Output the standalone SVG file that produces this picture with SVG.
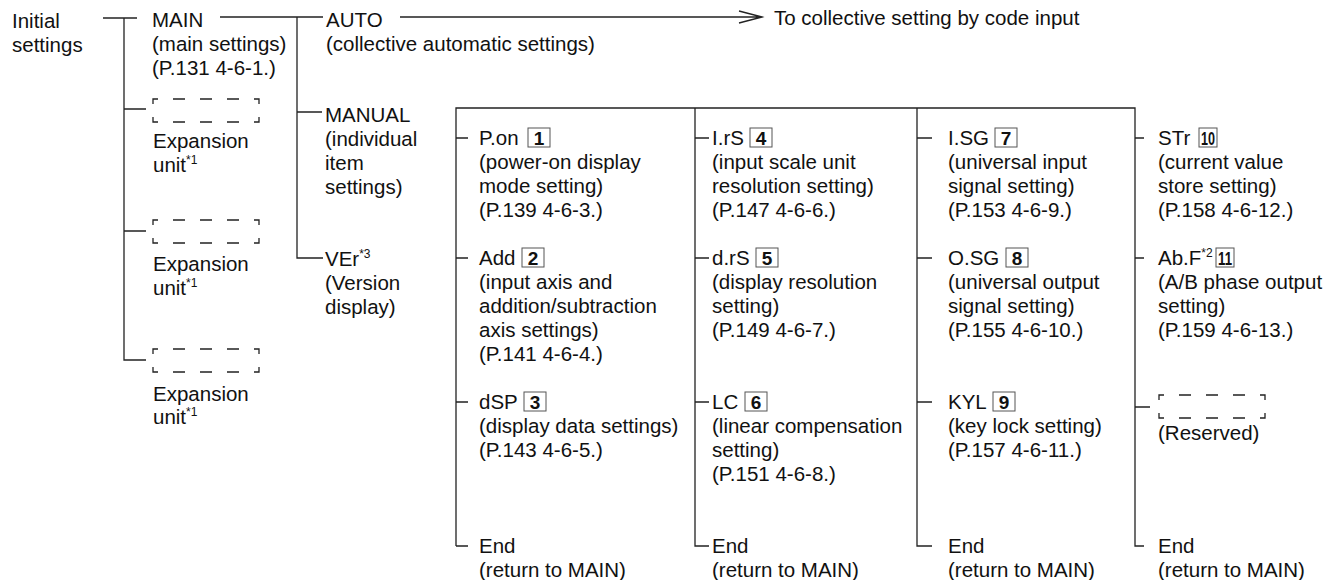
<svg xmlns="http://www.w3.org/2000/svg" xmlns:xlink="http://www.w3.org/1999/xlink" width="1332" height="580" viewBox="0 0 1332 580">
<style>
text { font-family: "Liberation Sans", Arial, Helvetica, sans-serif; font-size: 20.5px; fill: #111; }
.sup { font-size: 12px; }
.n { font-weight: bold; font-size: 19px; text-anchor: middle; }
.ln { stroke: #222; stroke-width: 1.3; fill: none; }
.nb { fill: none; stroke: #555; stroke-width: 1; }
.db { stroke: #222; stroke-width: 1.3; fill: none; }
</style>
<defs>
<path id="dbox" class="db" d="M0,5 V0 H5 M20,0 H32 M47,0 H59 M74,0 H86 M101,0 H106 V5 M0,18 V23 H5 M20,23 H32 M47,23 H59 M74,23 H86 M101,23 H106 V18"/>
</defs>
<rect width="1332" height="580" fill="#fff"/>

<g id="connectors">
<path class="ln" d="M103,18 H137"/>
<path class="ln" d="M124,18 V360 H146 M124,109 H146 M124,231 H146"/>
<path class="ln" d="M220,17 H323 M297,17 V258 H323 M297,112 H322"/>
<path class="ln" d="M400,17 H762 M739,11 L762,17 L739,23"/>
<path class="ln" d="M456,546 V108 H1135 V546 H1144"/>
<path class="ln" d="M456,546 H468 M695,108 V546 H709 M917,108 V546 H932"/>
<path class="ln" d="M456,138 H468 M456,258 H468 M456,402 H468"/>
<path class="ln" d="M695,138 H709 M695,258 H709 M695,402 H709"/>
<path class="ln" d="M917,138 H932 M917,258 H932 M917,402 H932"/>
<path class="ln" d="M1135,138 H1144 M1135,258 H1144 M1135,407 H1150"/>
</g>

<g id="initial">
<text x="12" y="28">Initial</text>
<text x="12" y="52">settings</text>
</g>

<g id="main">
<text x="152" y="27">MAIN</text>
<text x="152" y="51">(main settings)</text>
<text x="152" y="75">(P.131 4-6-1.)</text>
</g>

<g id="exp1">
<use xlink:href="#dbox" x="153" y="99"/>
<text x="153" y="148">Expansion</text>
<text x="153" y="172">unit<tspan class="sup" dy="-8">*1</tspan></text>
</g>
<g id="exp2">
<use xlink:href="#dbox" x="153" y="220"/>
<text x="153" y="271">Expansion</text>
<text x="153" y="295">unit<tspan class="sup" dy="-8">*1</tspan></text>
</g>
<g id="exp3">
<use xlink:href="#dbox" x="153" y="349"/>
<text x="153" y="401">Expansion</text>
<text x="153" y="424">unit<tspan class="sup" dy="-8">*1</tspan></text>
</g>

<g id="auto">
<text x="326" y="27">AUTO</text>
<text x="326" y="51">(collective automatic settings)</text>
</g>
<g id="code-input">
<text x="774" y="25">To collective setting by code input</text>
</g>
<g id="manual">
<text x="325" y="122">MANUAL</text>
<text x="325" y="146">(individual</text>
<text x="325" y="170">item</text>
<text x="325" y="194">settings)</text>
</g>
<g id="ver">
<text x="325" y="266">VEr<tspan class="sup" dy="-8">*3</tspan></text>
<text x="325" y="290">(Version</text>
<text x="325" y="314">display)</text>
</g>

<g id="pon">
<text x="479" y="145">P.on</text>
<rect class="nb" x="528" y="128" width="22" height="19"/><text class="n" x="539" y="145">1</text>
<text x="479" y="169">(power-on display</text>
<text x="479" y="193">mode setting)</text>
<text x="479" y="217">(P.139 4-6-3.)</text>
</g>
<g id="add">
<text x="479" y="265">Add</text>
<rect class="nb" x="522" y="248" width="22" height="19"/><text class="n" x="533" y="265">2</text>
<text x="479" y="289">(input axis and</text>
<text x="479" y="313">addition/subtraction</text>
<text x="479" y="337">axis settings)</text>
<text x="479" y="361">(P.141 4-6-4.)</text>
</g>
<g id="dsp">
<text x="479" y="409">dSP</text>
<rect class="nb" x="524" y="392" width="22" height="19"/><text class="n" x="535" y="409">3</text>
<text x="479" y="433">(display data settings)</text>
<text x="479" y="457">(P.143 4-6-5.)</text>
</g>
<g id="end1">
<text x="479" y="553">End</text>
<text x="479" y="577">(return to MAIN)</text>
</g>

<g id="irs">
<text x="712" y="145">I.rS</text>
<rect class="nb" x="750" y="128" width="22" height="19"/><text class="n" x="761" y="145">4</text>
<text x="712" y="169">(input scale unit</text>
<text x="712" y="193">resolution setting)</text>
<text x="712" y="217">(P.147 4-6-6.)</text>
</g>
<g id="drs">
<text x="712" y="265">d.rS</text>
<rect class="nb" x="756" y="248" width="22" height="19"/><text class="n" x="767" y="265">5</text>
<text x="712" y="289">(display resolution</text>
<text x="712" y="313">setting)</text>
<text x="712" y="337">(P.149 4-6-7.)</text>
</g>
<g id="lc">
<text x="712" y="409">LC</text>
<rect class="nb" x="745" y="392" width="22" height="19"/><text class="n" x="756" y="409">6</text>
<text x="712" y="433">(linear compensation</text>
<text x="712" y="457">setting)</text>
<text x="712" y="481">(P.151 4-6-8.)</text>
</g>
<g id="end2">
<text x="712" y="553">End</text>
<text x="712" y="577">(return to MAIN)</text>
</g>

<g id="isg">
<text x="948" y="145">I.SG</text>
<rect class="nb" x="995" y="128" width="22" height="19"/><text class="n" x="1006" y="145">7</text>
<text x="948" y="169">(universal input</text>
<text x="948" y="193">signal setting)</text>
<text x="948" y="217">(P.153 4-6-9.)</text>
</g>
<g id="osg">
<text x="948" y="265">O.SG</text>
<rect class="nb" x="1006" y="248" width="22" height="19"/><text class="n" x="1017" y="265">8</text>
<text x="948" y="289">(universal output</text>
<text x="948" y="313">signal setting)</text>
<text x="948" y="337">(P.155 4-6-10.)</text>
</g>
<g id="kyl">
<text x="948" y="409">KYL</text>
<rect class="nb" x="993" y="392" width="22" height="19"/><text class="n" x="1004" y="409">9</text>
<text x="948" y="433">(key lock setting)</text>
<text x="948" y="457">(P.157 4-6-11.)</text>
</g>
<g id="end3">
<text x="948" y="553">End</text>
<text x="948" y="577">(return to MAIN)</text>
</g>

<g id="str">
<text x="1158" y="145">STr</text>
<rect class="nb" x="1199" y="128" width="18" height="19"/><text class="n" x="1208" y="145" textLength="14" lengthAdjust="spacingAndGlyphs">10</text>
<text x="1158" y="169">(current value</text>
<text x="1158" y="193">store setting)</text>
<text x="1158" y="217">(P.158 4-6-12.)</text>
</g>
<g id="abf">
<text x="1158" y="265">Ab.F<tspan class="sup" dy="-8">*2</tspan></text>
<rect class="nb" x="1216" y="248" width="18" height="19"/><text class="n" x="1225" y="265" textLength="14" lengthAdjust="spacingAndGlyphs">11</text>
<text x="1158" y="289">(A/B phase output</text>
<text x="1158" y="313">setting)</text>
<text x="1158" y="337">(P.159 4-6-13.)</text>
</g>
<g id="reserved">
<use xlink:href="#dbox" x="1159" y="395"/>
<text x="1158" y="440">(Reserved)</text>
</g>
<g id="end4">
<text x="1158" y="553">End</text>
<text x="1158" y="577">(return to MAIN)</text>
</g>
</svg>
